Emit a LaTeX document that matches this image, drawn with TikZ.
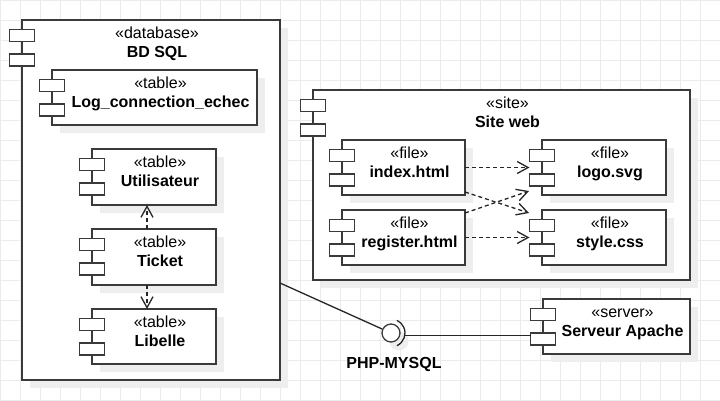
\documentclass[tikz,border=0pt]{standalone}
\usepackage{fontspec}
\setmainfont{Liberation Sans}
\usetikzlibrary{arrows.meta,fit,calc}
\definecolor{linec}{HTML}{3A3A3A}
\definecolor{gridc}{HTML}{EBEBEB}
\definecolor{shadowc}{HTML}{EEEEEE}
\tikzset{
  compbox/.style={draw=linec, fill=white, line width=1.3pt, inner sep=0pt, outer sep=0pt},
  iconbox/.style={draw=linec, fill=white, line width=1.3pt, inner sep=0pt, outer sep=0pt,
    minimum width=25pt, minimum height=12pt},
  stereo/.style={font=\fontsize{16}{19}\selectfont, text=black, inner sep=0pt},
  ctitle/.style={font=\fontsize{16}{19}\selectfont\bfseries, text=black, inner sep=0pt},
  conn/.style={draw=black!85, line width=1.3pt},
  dep/.style={draw=black!85, line width=1.3pt, dash pattern=on 4pt off 3pt,
    -{Straight Barb[length=11pt,width=12pt,line width=1.3pt]}},
}
\newcommand\mycomp[7]{%
  \fill[shadowc] (#2+8,#3+8) rectangle (#4+8,#5+8);
  \node[compbox, fit={(#2,#3) (#4,#5)}] (#1) {};
  \node[iconbox, anchor=north] (#1-i1) at (#2,#3+9.5) {};
  \node[iconbox, anchor=north] (#1-i2) at (#2,#3+34) {};
  \node[stereo, anchor=base] at ({(#2+#4)/2+6},#3+18) {«#6»};
  \node[ctitle, anchor=base] at ({(#2+#4)/2+6},#3+37) {#7};
}
\begin{document}
\begin{tikzpicture}[x=1pt,y=-1pt]
\useasboundingbox (0,0) rectangle (720,400);
\fill[white] (0,0) rectangle (720,400);
\foreach \gx in {0,20,...,720} \draw[gridc, line width=1pt] (\gx,0) -- (\gx,400);
\foreach \gy in {0,20,...,400} \draw[gridc, line width=1pt] (0,\gy) -- (720,\gy);

% database
\mycomp{db}{22}{20}{280}{380}{database}{BD SQL}
\mycomp{log}{52}{70}{257}{125}{table}{Log\_connection\_echec}
\mycomp{util}{92}{149}{216}{205}{table}{Utilisateur}
\mycomp{ticket}{92}{229}{216}{285}{table}{Ticket}
\mycomp{lib}{92}{309}{216}{364}{table}{Libelle}

% site
\mycomp{site}{313}{90}{690}{280}{site}{Site web}
\mycomp{index}{342}{140}{465}{195}{file}{index.html}
\mycomp{register}{342}{210}{465}{265}{file}{register.html}
\mycomp{logo}{542}{140}{666}{195}{file}{logo.svg}
\mycomp{style}{542}{210}{666}{265}{file}{style.css}

% server
\mycomp{ap}{543}{299}{690}{354}{server}{Serveur Apache}

% dependencies
\draw[dep] ([xshift=-7pt]ticket.north) -- ([xshift=-7pt]util.south);
\draw[dep] ([xshift=-7pt]ticket.south) -- ([xshift=-7pt]lib.north);
\draw[dep] (index.east) -- (index.east -| logo-i1.west);
\draw[dep] (register.east) -- (register.east -| style-i1.west);
\draw[dep] ([yshift=3pt]index.south east) -- ([shift={(-13pt,-3pt)}]style.north west);
\draw[dep] ([yshift=-3pt]register.north east) -- ([shift={(-13pt,4pt)}]logo.south west);

% interface
\fill[shadowc] (399,341) circle[radius=9.5pt];
\node[draw=linec, fill=white, line width=1.3pt, circle, minimum size=18pt, inner sep=0pt] (iface) at (391,333) {};
\draw[conn] ([shift={(-65:14pt)}]iface.center) arc[start angle=-65, end angle=65, radius=14pt];
\coordinate (dbport) at (280,283);
\coordinate (sock) at (405,335.5);
\draw[conn] (dbport) -- (iface);
\draw[conn] (sock) -- (sock -| ap-i2.west);
\node[ctitle, anchor=base] (ifl) at (394,368) {PHP-MYSQL};
\end{tikzpicture}
\end{document}
